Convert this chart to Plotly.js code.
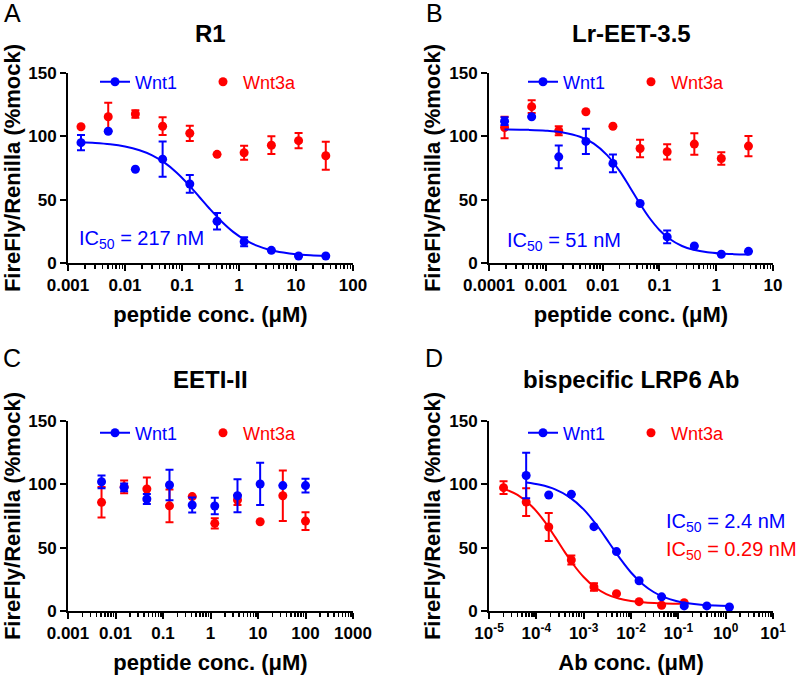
<!DOCTYPE html>
<html><head><meta charset="utf-8">
<script src="https://cdn.plot.ly/plotly-3.0.1.min.js"></script>
<style>html,body{margin:0;padding:0;background:#fff}#chart{width:800px;height:677px}</style>
</head><body><div id="chart"></div><script>
// ---------- data ----------
var concA = [0.00169, 0.00508, 0.0152, 0.0457, 0.137, 0.412, 1.23, 3.70, 11.1, 33.3];
var wnt1A = [95, 104, 74, 82, 62.4, 33, 16.8, 10, 5.5, 5.5];
var wnt1A_err = [6, 0, 0, 14, 7, 6.5, 3.5, 0, 0, 0];
var wnt3aA = [107.6, 115.5, 117.6, 108, 102.4, 85.8, 87, 93, 96.6, 84.7];
var wnt3aA_err = [0, 11, 3, 7, 6, 0, 5.5, 7, 6, 11];
var fitA_x = [0.00169, 0.003, 0.0055, 0.01, 0.018, 0.03, 0.05, 0.08, 0.13, 0.2, 0.3, 0.5, 0.8, 1.3, 2, 3.5, 6, 10, 18, 33.3];
var fitA_y = [95.3, 94.8, 93.8, 92.0, 89.0, 85.0, 79.0, 71.5, 61.9, 52.3, 43.2, 32.6, 24.4, 18.0, 13.9, 10.3, 8.2, 6.9, 6.1, 5.6];

var concB = [0.000188, 0.000564, 0.00169, 0.00508, 0.0152, 0.0457, 0.137, 0.412, 1.23, 3.70];
var wnt1B = [112, 115.5, 83.8, 96, 78.6, 47, 20.6, 13.4, 6.9, 9.2];
var wnt1B_err = [3, 0, 9, 10, 7, 0, 5, 0, 0, 0];
var wnt3aB = [107, 123.4, 104.4, 119.4, 108, 90.4, 87.8, 93.9, 82.5, 92.3];
var wnt3aB_err = [8.5, 5, 3.5, 0, 0, 7, 6, 8.5, 5, 8];
var fitB_x = [0.000188, 0.0005, 0.001, 0.002, 0.004, 0.007, 0.012, 0.02, 0.03, 0.045, 0.065, 0.1, 0.15, 0.25, 0.4, 0.7, 1.2, 2, 3.7];
var fitB_y = [105.4, 105.1, 104.5, 103.1, 99.7, 94.3, 85.2, 72.5, 60.0, 47.1, 36.3, 26.1, 19.1, 13.4, 10.4, 8.4, 7.45, 7.0, 6.7];

var concC = [0.00508, 0.0152, 0.0457, 0.137, 0.412, 1.23, 3.70, 11.1, 33.3, 100];
var wnt1C = [102, 97.6, 88.4, 99.5, 83.7, 82.9, 91, 100.3, 99, 99];
var wnt1C_err = [5, 3, 4, 12, 6, 6.5, 13, 16.7, 0, 5.5];
var wnt3aC = [85.8, 98, 96.3, 83, 90.3, 69.2, 87.6, 70.5, 91, 71];
var wnt3aC_err = [12, 5, 9, 13, 0, 4, 4, 0, 20, 7];

var concD1 = [0.0000610, 0.000183, 0.000549, 0.00165, 0.00494, 0.0148, 0.0444, 0.133, 0.4, 1.2];
var wnt1D = [107, 91.6, 92.1, 66.6, 46.9, 23.9, 11.2, 4, 4, 3.2];
var wnt1D_err = [18, 0, 0, 0, 0, 0, 0, 0, 0, 0];
var concD3 = [0.0000203, 0.0000610, 0.000183, 0.000549, 0.00165, 0.00494, 0.0148, 0.0444, 0.133];
var wnt3aD = [97.4, 86, 66.3, 40.3, 19, 13.7, 7.4, 4.5, 6.6];
var wnt3aD_err = [5, 11, 11, 3.5, 3, 0, 0, 0, 0];
var fitD1_x = [0.000061, 0.00012, 0.00025, 0.0005, 0.001, 0.002, 0.0035, 0.006, 0.01, 0.018, 0.03, 0.05, 0.09, 0.16, 0.3, 0.6, 1.2];
var fitD1_y = [101.4, 99.6, 96.0, 89.9, 80.2, 66.5, 53.5, 41.0, 30.4, 20.9, 15.0, 10.9, 7.9, 6.1, 4.9, 4.25, 3.9];
var fitD3_x = [0.0000203, 0.00004, 0.00008, 0.00015, 0.00025, 0.0004, 0.0006, 0.001, 0.0017, 0.003, 0.0055, 0.01, 0.02, 0.04, 0.08, 0.133];
var fitD3_y = [96.6, 91.6, 82.7, 70.6, 58.3, 46.5, 36.9, 26.8, 18.9, 13.4, 9.85, 7.9, 6.66, 6.07, 5.77, 5.66];

// tick labels
var yTicks = [0, 50, 100, 150];
var xTicksA = [0.001, 0.01, 0.1, 1, 10, 100];
var xLabelsA = ['0.001', '0.01', '0.1', '1', '10', '100'];
var xTicksB = [0.0001, 0.001, 0.01, 0.1, 1, 10];
var xLabelsB = ['0.0001', '0.001', '0.01', '0.1', '1', '10'];
var xTicksC = [0.001, 0.01, 0.1, 1, 10, 100, 1000];
var xLabelsC = ['0.001', '0.01', '0.1', '1', '10', '100', '1000'];
var xTicksD = [1e-5, 1e-4, 1e-3, 1e-2, 1e-1, 1, 10];
var xLabelsD = ['10<sup>-5</sup>', '10<sup>-4</sup>', '10<sup>-3</sup>', '10<sup>-2</sup>', '10<sup>-1</sup>', '10<sup>0</sup>', '10<sup>1</sup>'];

// ---------- styling ----------
var BLUE = '#0000ff', RED = '#ff0000';
var FF = 'Liberation Sans, Arial, sans-serif';
var W = 800, H = 677;
function px(x) { return x / W; }
function py(y) { return 1 - y / H; }

var traces = [];
function panel(n, xs, yB, eB, xr, yR, eR, fitB, fitR) {
  var xa = n === 1 ? 'x' : 'x' + n, ya = n === 1 ? 'y' : 'y' + n;
  var lg = n === 1 ? 'legend' : 'legend' + n;
  traces.push({x: [null], y: [null], xaxis: xa, yaxis: ya, mode: 'lines+markers', legend: lg, legendrank: 1,
    name: '<span style="color:' + BLUE + '">Wnt1</span>', marker: {color: BLUE, size: 9}, line: {color: BLUE, width: 2}, hoverinfo: 'skip'});
  if (fitR) traces.push({x: fitR[0], y: fitR[1], xaxis: xa, yaxis: ya, mode: 'lines', line: {color: RED, width: 2, shape: 'spline'}, showlegend: false});
  traces.push({x: xr, y: yR, xaxis: xa, yaxis: ya, mode: 'markers', legend: lg, legendrank: 2,
    name: '<span style="color:' + RED + '">Wnt3a</span>', marker: {color: RED, size: 9},
    error_y: {type: 'data', array: eR, color: RED, thickness: 2, width: 4}, cliponaxis: false});
  if (fitB) traces.push({x: fitB[0], y: fitB[1], xaxis: xa, yaxis: ya, mode: 'lines', line: {color: BLUE, width: 2, shape: 'spline'}, showlegend: false});
  traces.push({x: xs, y: yB, xaxis: xa, yaxis: ya, mode: 'markers', showlegend: false, marker: {color: BLUE, size: 9},
    error_y: {type: 'data', array: eB, color: BLUE, thickness: 2, width: 4}, cliponaxis: false});
}
panel(1, concA, wnt1A, wnt1A_err, concA, wnt3aA, wnt3aA_err, [fitA_x, fitA_y], null);
panel(2, concB, wnt1B, wnt1B_err, concB, wnt3aB, wnt3aB_err, [fitB_x, fitB_y], null);
panel(3, concC, wnt1C, wnt1C_err, concC, wnt3aC, wnt3aC_err, null, null);
panel(4, concD1, wnt1D, wnt1D_err, concD3, wnt3aD, wnt3aD_err, [fitD1_x, fitD1_y], [fitD3_x, fitD3_y]);

function xAxis(x0, x1, range, tv, tt, title, anchor) {
  return {domain: [px(x0), px(x1)], type: 'log', range: range, anchor: anchor,
    tickmode: 'array', tickvals: tv, ticktext: tt, ticks: 'outside', ticklen: 6, tickwidth: 2, tickcolor: '#000',
    showline: true, linewidth: 2, linecolor: '#000', showgrid: false, zeroline: false,
    minor: {ticks: 'outside', ticklen: 3.5, tickwidth: 1.5, tickcolor: '#000', dtick: 'D1', showgrid: false},
    tickfont: {family: FF, size: 17, color: '#000', weight: 'bold'},
    title: {text: title, font: {family: FF, size: 22, color: '#000', weight: 'bold'}, standoff: 12}};
}
function yAxis(y0, y1, anchor) {
  return {domain: [py(y0), py(y1)], range: [0, 150], anchor: anchor,
    tickmode: 'array', tickvals: yTicks, ticks: 'outside', ticklen: 6, tickwidth: 2, tickcolor: '#000',
    showline: true, linewidth: 2, linecolor: '#000', showgrid: false, zeroline: false,
    tickfont: {family: FF, size: 17, color: '#000', weight: 'bold'},
    title: {text: 'FireFly/Renilla (%mock)', font: {family: FF, size: 22, color: '#000', weight: 'bold'}, standoff: 3}};
}
function legend(xc, yc) {
  return {orientation: 'h', x: px(xc), y: py(yc), xanchor: 'left', yanchor: 'middle', bgcolor: 'rgba(0,0,0,0)',
    font: {family: FF, size: 18}, itemwidth: 30, entrywidth: 63, traceorder: 'normal'};
}
function ann(text, x, y, size, color, bold, xanchor) {
  return {text: text, x: px(x), y: py(y), xref: 'paper', yref: 'paper', showarrow: false,
    xanchor: xanchor || 'center', yanchor: 'middle',
    font: {family: FF, size: size, color: color, weight: bold ? 'bold' : 'normal'}};
}

var layout = {
  width: W, height: H, margin: {l: 0, r: 0, t: 0, b: 0}, paper_bgcolor: '#fff', plot_bgcolor: 'rgba(0,0,0,0)',
  font: {family: FF, color: '#000'},
  xaxis: xAxis(68, 353, [-3, 2], xTicksA, xLabelsA, 'peptide conc. (\u03bcM)', 'y'),
  yaxis: yAxis(263, 73, 'x'),
  xaxis2: xAxis(489, 773, [-4, 1], xTicksB, xLabelsB, 'peptide conc. (\u03bcM)', 'y2'),
  yaxis2: yAxis(263, 73, 'x2'),
  xaxis3: xAxis(68, 353, [-3, 3], xTicksC, xLabelsC, 'peptide conc. (\u03bcM)', 'y3'),
  yaxis3: yAxis(611, 421, 'x3'),
  xaxis4: xAxis(489, 773, [-5, 1], xTicksD, xLabelsD, 'Ab conc. (\u03bcM)', 'y4'),
  yaxis4: yAxis(611, 421, 'x4'),
  legend: legend(95, 82), legend2: legend(523, 82), legend3: legend(95, 433), legend4: legend(523, 433),
  annotations: [
    ann('A', 12, 13, 25, '#000', false), ann('B', 434, 13, 25, '#000', false),
    ann('C', 12, 358, 25, '#000', false), ann('D', 434, 358, 25, '#000', false),
    ann('R1', 210, 34, 24, '#000', true), ann('Lr-EET-3.5', 631, 34, 24, '#000', true),
    ann('EETI-II', 210, 380, 24, '#000', true), ann('bispecific LRP6 Ab', 631, 380, 24, '#000', true),
    ann('IC<sub>50</sub> = 217 nM', 77, 240, 20, BLUE, false, 'left'),
    ann('IC<sub>50</sub> = 51 nM', 505, 241, 20, BLUE, false, 'left'),
    ann('IC<sub>50</sub> = 2.4 nM', 664, 522, 20, BLUE, false, 'left'),
    ann('IC<sub>50</sub> = 0.29 nM', 664, 550, 20, RED, false, 'left')
  ]
};
Plotly.newPlot('chart', traces, layout, {displayModeBar: false, staticPlot: true});
</script></body></html>
